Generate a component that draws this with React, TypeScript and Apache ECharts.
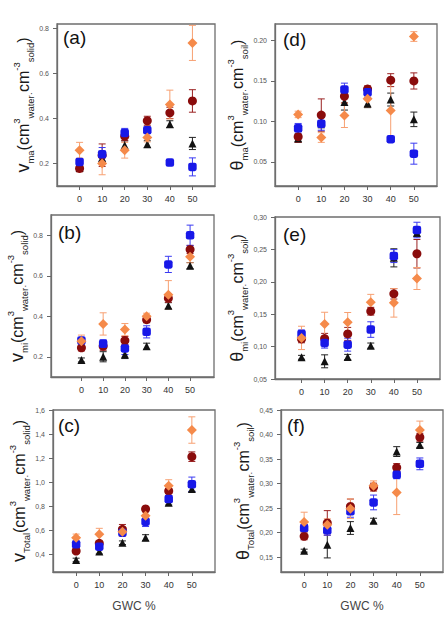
import React, { useEffect, useRef } from "react";
import * as echarts from "echarts";

// Gravimetric water content levels (x axis, %)
const gwc = [0, 10, 20, 30, 40, 50];

// (a) macropore volume per solid volume
const vmaBlue = [0.207, 0.241, 0.336, 0.348, 0.204, 0.185];
const vmaBlueErr = [0.015, 0.03, 0.02, 0.015, 0.008, 0.04];
const vmaRed = [0.178, 0.237, 0.321, 0.39, 0.425, 0.478];
const vmaRedErr = [0.015, 0.05, 0.02, 0.02, 0.025, 0.05];
const vmaOrange = [0.259, 0.2, 0.259, 0.316, 0.462, 0.736];
const vmaOrangeErr = [0.035, 0.05, 0.035, 0.02, 0.064, 0.078];
const vmaBlack = [0.18, 0.225, 0.281, 0.286, 0.375, 0.289];
const vmaBlackErr = [0.01, 0.02, 0.02, 0.015, 0.015, 0.027];

// (b) micropore volume per solid volume
const vmiBlue = [0.28, 0.264, 0.241, 0.323, 0.656, 0.8];
const vmiBlueErr = [0.015, 0.02, 0.03, 0.03, 0.04, 0.05];
const vmiRed = [0.244, 0.252, 0.28, 0.383, 0.489, 0.73];
const vmiRedErr = [0.015, 0.02, 0.02, 0.015, 0.02, 0.02];
const vmiOrange = [0.277, 0.362, 0.334, 0.4, 0.506, 0.694];
const vmiOrangeErr = [0.03, 0.055, 0.03, 0.015, 0.07, 0.03];
const vmiBlack = [0.184, 0.2, 0.211, 0.252, 0.452, 0.65];
const vmiBlackErr = [0.01, 0.025, 0.02, 0.015, 0.015, 0.015];

// (c) total water volume per solid volume
const vtotBlue = [0.481, 0.461, 0.578, 0.669, 0.858, 0.981];
const vtotBlueErr = [0.02, 0.02, 0.02, 0.04, 0.03, 0.06];
const vtotRed = [0.425, 0.489, 0.606, 0.775, 0.925, 1.211];
const vtotRedErr = [0.02, 0.02, 0.04, 0.02, 0.02, 0.04];
const vtotOrange = [0.536, 0.564, 0.586, 0.719, 0.969, 1.433];
const vtotOrangeErr = [0.03, 0.05, 0.04, 0.03, 0.05, 0.11];
const vtotBlack = [0.35, 0.42, 0.494, 0.536, 0.828, 0.942];
const vtotBlackErr = [0.015, 0.02, 0.015, 0.025, 0.02, 0.02];

// (d) macropore water per soil volume
const tmaBlue = [0.0914, 0.097, 0.1393, 0.136, 0.0779, 0.06];
const tmaBlueErr = [0.006, 0.008, 0.008, 0.006, 0.003, 0.013];
const tmaRed = [0.0811, 0.1078, 0.131, 0.14, 0.151, 0.15];
const tmaRedErr = [0.007, 0.02, 0.008, 0.004, 0.008, 0.01];
const tmaOrange = [0.1086, 0.08, 0.1074, 0.128, 0.1135, 0.205];
const tmaOrangeErr = [0.004, 0.006, 0.015, 0.01, 0.036, 0.006];
const tmaBlack = [0.079, 0.1, 0.124, 0.122, 0.127, 0.1025];
const tmaBlackErr = [0.005, 0.008, 0.01, 0.005, 0.008, 0.009];

// (e) micropore water per soil volume
const tmiBlue = [0.1196, 0.1057, 0.103, 0.1263, 0.2397, 0.2799];
const tmiBlueErr = [0.006, 0.008, 0.01, 0.012, 0.01, 0.012];
const tmiRed = [0.1119, 0.1124, 0.1196, 0.1546, 0.1814, 0.2433];
const tmiRedErr = [0.006, 0.008, 0.01, 0.006, 0.008, 0.022];
const tmiOrange = [0.1134, 0.135, 0.1376, 0.1686, 0.1675, 0.2051];
const tmiOrangeErr = [0.018, 0.018, 0.015, 0.012, 0.022, 0.017];
const tmiBlack = [0.0835, 0.0773, 0.084, 0.1015, 0.237, 0.2758];
const tmiBlackErr = [0.003, 0.01, 0.004, 0.004, 0.014, 0.006];

// (f) total water per soil volume
const ttotBlue = [0.2096, 0.205, 0.2435, 0.2617, 0.318, 0.3403];
const ttotBlueErr = [0.007, 0.01, 0.012, 0.015, 0.008, 0.012];
const ttotRed = [0.1927, 0.22, 0.2536, 0.2929, 0.3328, 0.3945];
const ttotRedErr = [0.007, 0.025, 0.015, 0.008, 0.008, 0.008];
const ttotOrange = [0.2218, 0.2164, 0.2489, 0.2956, 0.282, 0.4094];
const ttotOrangeErr = [0.02, 0.012, 0.02, 0.01, 0.045, 0.018];
const ttotBlack = [0.1635, 0.1757, 0.2096, 0.2245, 0.3653, 0.3789];
const ttotBlackErr = [0.003, 0.027, 0.013, 0.005, 0.01, 0.005];

// y tick values and their printed labels
const ticksA = [0.2, 0.4, 0.6, 0.8];
const labelsA = ["0.2", "0.4", "0.6", "0.8"];
const ticksB = [0.2, 0.4, 0.6, 0.8];
const labelsB = ["0.2", "0.4", "0.6", "0.8"];
const ticksC = [0.4, 0.6, 0.8, 1.0, 1.2, 1.4, 1.6];
const labelsC = ["0,4", "0,6", "0,8", "1,0", "1,2", "1,4", "1,6"];
const ticksD = [0.05, 0.1, 0.15, 0.2];
const labelsD = ["0.05", "0.10", "0.15", "0.20"];
const ticksE = [0.05, 0.1, 0.15, 0.2, 0.25, 0.3];
const labelsE = ["0,05", "0,10", "0,15", "0,20", "0,25", "0,30"];
const ticksF = [0.15, 0.2, 0.25, 0.3, 0.35, 0.4, 0.45];
const labelsF = ["0,15", "0,20", "0,25", "0,30", "0,35", "0,40", "0,45"];

const FONT = "'Liberation Sans', Arial, sans-serif";

const STYLES = {
  black: { color: "#121212", bar: "#222222", symbol: "triangle", size: 8 },
  red: { color: "#8a0c0c", bar: "#9a2222", symbol: "circle", size: 9 },
  blue: { color: "#1818e8", bar: "#3a3af2", symbol: "roundRect", size: 8.5 },
  orange: { color: "#f58a4a", bar: "#f7a072", symbol: "diamond", size: 10 },
};

type Key = keyof typeof STYLES;

const yName = (sym: string, sub: string, solid: string) =>
  `{g|${sym}}{s|${sub}}{m|(cm}{p|3}{s|water·}{m|cm}{p|-3}{s|${solid}}{m|)}`;

const panels = [
  {
    tag: "(a)", box: [57, 24, 158, 162], x: [-10, 60], y: [0.1, 0.82], ticks: ticksA, labels: labelsA,
    name: yName("v", "ma", "solid"), gap: 16, tagPos: [63, 28],
    data: { black: [vmaBlack, vmaBlackErr], red: [vmaRed, vmaRedErr], blue: [vmaBlue, vmaBlueErr], orange: [vmaOrange, vmaOrangeErr] },
  },
  {
    tag: "(b)", box: [51, 215, 163, 162], x: [-14, 61], y: [0.1, 0.9], ticks: ticksB, labels: labelsB,
    name: yName("v", "mi", "solid"), gap: 12, tagPos: [58, 223],
    data: { black: [vmiBlack, vmiBlackErr], red: [vmiRed, vmiRedErr], blue: [vmiBlue, vmiBlueErr], orange: [vmiOrange, vmiOrangeErr] },
  },
  {
    tag: "(c)", box: [53, 410, 162, 162], x: [-10, 60], y: [0.25, 1.6], ticks: ticksC, labels: labelsC,
    name: yName("v", "Total", "solid"), gap: 16, tagPos: [58, 416],
    data: { black: [vtotBlack, vtotBlackErr], red: [vtotRed, vtotRedErr], blue: [vtotBlue, vtotBlueErr], orange: [vtotOrange, vtotOrangeErr] },
  },
  {
    tag: "(d)", box: [275, 24, 162, 162], x: [-10, 60], y: [0.02, 0.2205], ticks: ticksD, labels: labelsD,
    name: yName("θ", "ma", "soil"), gap: 22, tagPos: [283, 30],
    data: { black: [tmaBlack, tmaBlackErr], red: [tmaRed, tmaRedErr], blue: [tmaBlue, tmaBlueErr], orange: [tmaOrange, tmaOrangeErr] },
  },
  {
    tag: "(e)", box: [275, 217, 165, 162], x: [-11.5, 60], y: [0.05, 0.3], ticks: ticksE, labels: labelsE,
    name: yName("θ", "mi", "soil"), gap: 21, tagPos: [283, 225],
    data: { black: [tmiBlack, tmiBlackErr], red: [tmiRed, tmiRedErr], blue: [tmiBlue, tmiBlueErr], orange: [tmiOrange, tmiOrangeErr] },
  },
  {
    tag: "(f)", box: [281, 410, 162, 162], x: [-10, 60], y: [0.12, 0.45], ticks: ticksF, labels: labelsF,
    name: yName("θ", "Total", "soil"), gap: 25, tagPos: [287, 416],
    data: { black: [ttotBlack, ttotBlackErr], red: [ttotRed, ttotRedErr], blue: [ttotBlue, ttotBlueErr], orange: [ttotOrange, ttotOrangeErr] },
  },
];

const ORDER: Key[] = ["black", "red", "blue", "orange"];

function buildOption() {
  const grid: any[] = [];
  const xAxis: any[] = [];
  const yAxis: any[] = [];
  const series: any[] = [];
  const graphic: any[] = [];

  panels.forEach((p, i) => {
    const [left, top, width, height] = p.box;
    grid.push({
      left, top, width, height, show: true,
      borderColor: "#6e6e6e", borderWidth: 1.3, backgroundColor: "transparent",
    });
    const bottomRow = i === 2 || i === 5;
    xAxis.push({
      gridIndex: i, type: "value", min: p.x[0], max: p.x[1],
      axisLine: { show: true, onZero: false, lineStyle: { color: "#6e6e6e", width: 1.3 } },
      splitLine: { show: false },
      axisTick: { show: true, length: 4, customValues: gwc, lineStyle: { color: "#666" } },
      axisLabel: {
        customValues: gwc, fontSize: 9, color: "#333", margin: 8, fontFamily: FONT,
        formatter: (v: number) => String(Math.round(v)),
      },
      name: bottomRow ? "GWC %" : "",
      nameLocation: "middle", nameGap: 28,
      nameTextStyle: { fontSize: 12, color: "#444", fontFamily: FONT },
    });
    const ticks = p.ticks;
    const labels = p.labels;
    yAxis.push({
      gridIndex: i, type: "value", min: p.y[0], max: p.y[1],
      axisLine: { show: true, onZero: false, lineStyle: { color: "#6e6e6e", width: 1.3 } },
      splitLine: { show: false },
      axisTick: { show: true, length: 4, customValues: ticks, lineStyle: { color: "#666" } },
      axisLabel: {
        customValues: ticks, fontSize: 7, color: "#555", margin: 8, fontFamily: FONT,
        formatter: (v: number) => {
          const k = ticks.findIndex((t) => Math.abs(t - v) < 1e-9);
          return k >= 0 ? labels[k] : "";
        },
      },
      name: p.name, nameLocation: "middle", nameRotate: 90, nameGap: p.gap,
      nameTextStyle: {
        color: "#1a1a1a", fontFamily: FONT,
        rich: {
          g: { fontSize: 18, lineHeight: 24, verticalAlign: "middle", fontFamily: FONT, color: "#1a1a1a" },
          m: { fontSize: 16, lineHeight: 24, verticalAlign: "middle", fontFamily: FONT, color: "#1a1a1a" },
          s: { fontSize: 9.5, lineHeight: 10, verticalAlign: "bottom", fontFamily: FONT, color: "#1a1a1a" },
          p: { fontSize: 9.5, lineHeight: 10, verticalAlign: "top", fontFamily: FONT, color: "#1a1a1a" },
        },
      },
    });

    ORDER.forEach((key) => {
      const st = STYLES[key];
      const [vals, errs] = (p.data as any)[key] as number[][];
      series.push({
        type: "custom", xAxisIndex: i, yAxisIndex: i, clip: false,
        encode: { x: 0, y: [1, 2] },
        data: gwc.map((g, k) => [g, vals[k] - errs[k], vals[k] + errs[k]]),
        renderItem: (_params: any, api: any) => {
          const xv = api.value(0);
          const hi = api.coord([xv, api.value(2)]);
          const lo = api.coord([xv, api.value(1)]);
          const hw = 3.5;
          const style = { stroke: st.bar, lineWidth: 1 };
          return {
            type: "group",
            children: [
              { type: "line", shape: { x1: hi[0], y1: hi[1], x2: lo[0], y2: lo[1] }, style },
              { type: "line", shape: { x1: hi[0] - hw, y1: hi[1], x2: hi[0] + hw, y2: hi[1] }, style },
              { type: "line", shape: { x1: lo[0] - hw, y1: lo[1], x2: lo[0] + hw, y2: lo[1] }, style },
            ],
          };
        },
      });
      series.push({
        type: "scatter", xAxisIndex: i, yAxisIndex: i,
        symbol: st.symbol, symbolSize: st.size,
        itemStyle: { color: st.color, opacity: 1 },
        data: gwc.map((g, k) => [g, vals[k]]),
      });
    });

    graphic.push({
      type: "text", left: p.tagPos[0], top: p.tagPos[1],
      style: { text: p.tag, font: `19px ${FONT}`, fill: "#111" },
    });
  });

  return { animation: false, backgroundColor: "#fff", grid, xAxis, yAxis, series, graphic };
}

export default function App() {
  const ref = useRef<HTMLDivElement>(null);
  useEffect(() => {
    if (!ref.current) return;
    const chart = echarts.init(ref.current, undefined, { renderer: "svg" });
    chart.setOption(buildOption() as any);
    return () => chart.dispose();
  }, []);
  return (
    <div
      ref={ref}
      style={{ position: "fixed", left: 0, top: 0, width: 448, height: 620, background: "#fff" }}
    />
  );
}
